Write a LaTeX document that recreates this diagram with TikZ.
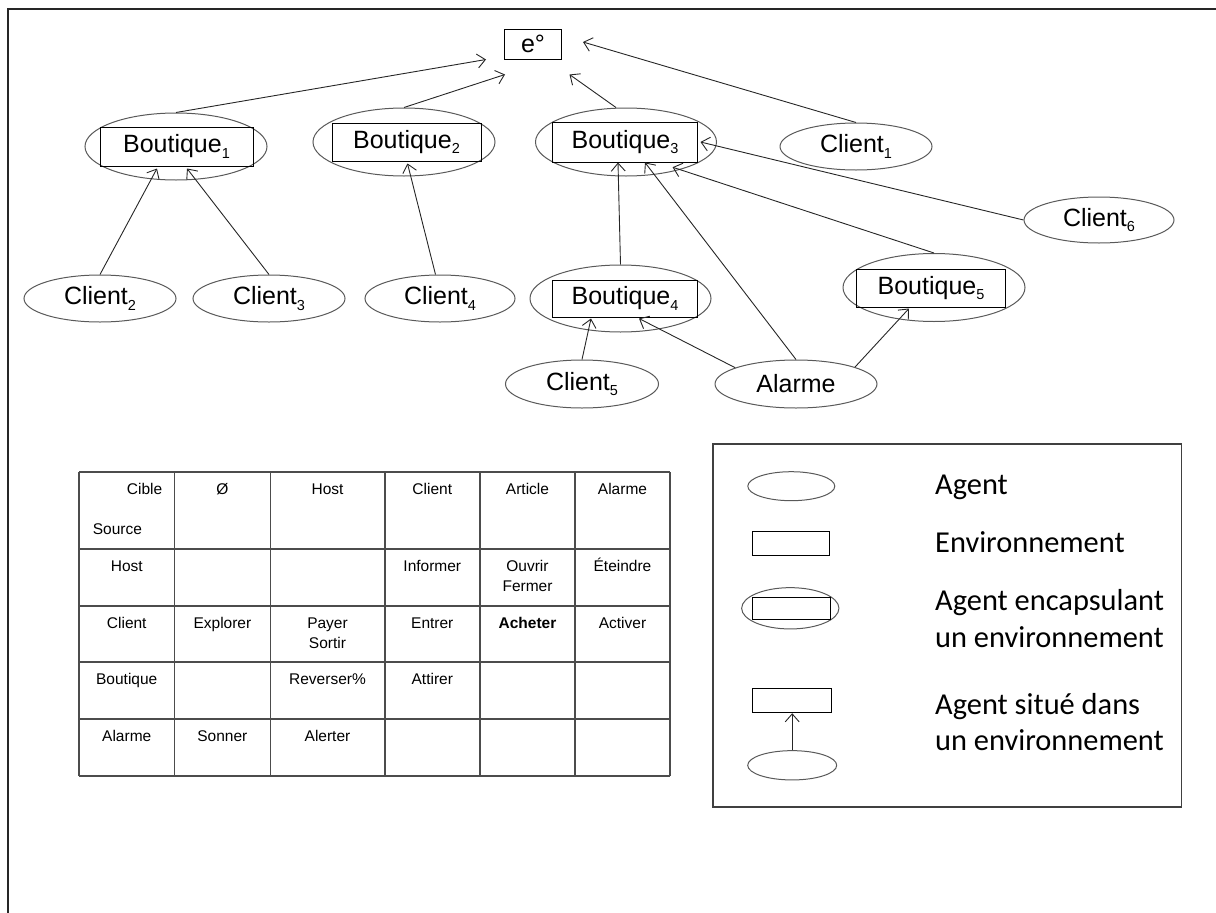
\documentclass[tikz,border=0pt]{standalone}
\usepackage{fontspec}
\setmainfont{Liberation Sans}
\newfontfamily\legfont{Carlito}
\usetikzlibrary{shapes.geometric,arrows.meta}
\newcommand\mysub[1]{\raisebox{-0.42ex}{\fontsize{14.5}{15}\selectfont #1}}
\tikzset{
 ell/.style={ellipse, draw=black!65, line width=1pt, inner sep=0pt},
 envbox/.style={rectangle, draw=black, line width=1pt, inner sep=0pt},
 lbl/.style={font=\fontsize{25}{29}\selectfont},
 arr/.style={draw=black!85, line width=0.9pt, -{Straight Barb[length=8pt,width=14pt]}},
 cell/.style={anchor=base, font=\fontsize{15.5}{18}\selectfont, inner sep=0pt},
 leg/.style={anchor=base west, font=\legfont\fontsize{30.4}{36}\selectfont, inner sep=0pt},
 tline/.style={draw=black!70, line width=1.4pt},
}
\begin{document}
\begin{tikzpicture}[x=1pt,y=-1pt]
\useasboundingbox (0,0) rectangle (1216,913);
% frame
\draw[line width=2pt, black!85] (8,913) -- (8,9) -- (1216,9);

% top node
\node[envbox, lbl, minimum width=57pt, minimum height=30pt] (e) at (533,44) {e°};

% boutiques (agent encapsulating environment)
\node[ell, minimum width=182pt, minimum height=67pt] (b1) at (176,146.5) {};
\node[envbox, lbl, minimum width=153pt, minimum height=39pt] (b1r) at (176.5,146.5) {Boutique\mysub{1}};
\node[ell, minimum width=182pt, minimum height=68pt] (b2) at (404,142) {};
\node[envbox, lbl, minimum width=149pt, minimum height=38pt] (b2r) at (406.5,142) {Boutique\mysub{2}};
\node[ell, minimum width=181pt, minimum height=68pt] (b3) at (626,142) {};
\node[envbox, lbl, minimum width=145pt, minimum height=40pt] (b3r) at (625,142) {Boutique\mysub{3}};
\node[ell, minimum width=181pt, minimum height=67pt] (b4) at (620.5,298.5) {};
\node[envbox, lbl, minimum width=145pt, minimum height=37pt] (b4r) at (625,298.5) {Boutique\mysub{4}};
\node[ell, minimum width=182pt, minimum height=68pt] (b5) at (934,287.5) {};
\node[envbox, lbl, minimum width=149pt, minimum height=38pt] (b5r) at (931,288) {Boutique\mysub{5}};

% clients
\node[ell, lbl, minimum width=152pt, minimum height=47pt] (c1) at (856,146.5) {Client\mysub{1}};
\node[ell, lbl, minimum width=152pt, minimum height=47pt] (c2) at (100,298.5) {Client\mysub{2}};
\node[ell, lbl, minimum width=152pt, minimum height=47pt] (c3) at (269,298.5) {Client\mysub{3}};
\node[ell, lbl, minimum width=150pt, minimum height=47pt] (c4) at (440,298.5) {Client\mysub{4}};
\node[ell, lbl, minimum width=153pt, minimum height=48pt] (c5) at (582,384) {Client\mysub{5}};
\node[ell, lbl, minimum width=150pt, minimum height=46pt] (c6) at (1099,220) {Client\mysub{6}};
\node[ell, lbl, minimum width=162pt, minimum height=48pt] (al) at (796,384) {Alarme};

% connectors
\draw[arr] (b1.north) -- ([xshift=-18pt]e.south west);
\draw[arr] (b2.north) -- ([xshift=1pt,yshift=-15pt]e.south west);
\draw[arr] ([xshift=-10pt]b3.north) -- ([xshift=7.5pt,yshift=-15pt]e.south east);
\draw[arr] (c1.north) -- ([xshift=21pt,yshift=2pt]e.east);
\draw[arr] (c2.north) -- ([xshift=-19.5pt,yshift=-2pt]b1r.south);
\draw[arr] (c3.north) -- ([xshift=10.5pt,yshift=-2pt]b1r.south);
\draw[arr] ([xshift=-4.5pt]c4.north) -- ([xshift=1pt,yshift=-2pt]b2r.south);
\draw[arr] (b4.north) -- ([xshift=-7pt]b3r.south);
\draw[arr] (al.north) -- ([xshift=20pt]b3r.south);
\draw[arr] (b5.north) -- ([xshift=47.6pt,yshift=-4.7pt]b3r.south);
\draw[arr] (c6.west) -- ([xshift=2.5pt]b3r.east);
\draw[arr] (c5.north) -- ([xshift=-34pt,yshift=-1pt]b4r.south);
\draw[arr] (al.165) -- ([xshift=14pt,yshift=-1pt]b4r.south);
\draw[arr] (al.16) -- ([xshift=-22pt,yshift=-1pt]b5r.south);

% table
\foreach \yy in {472,549,606,662,719,776} \draw[tline] (79,\yy) -- (670,\yy);
\foreach \xx in {79,174.5,270.3,384.8,479.9,575,670} \draw[tline] (\xx,472) -- (\xx,776);

\node[cell, anchor=base east] (h0a) at (162.4,494.5) {Cible};
\node[cell, anchor=base west] (h0b) at (92.6,534.5) {Source};
\node[cell] (h1) at (222.4,494.5) {Ø};
\node[cell] (h2) at (327.5,494.5) {Host};
\node[cell] (h3) at (432.3,494.5) {Client};
\node[cell] (h4) at (527.5,494.5) {Article};
\node[cell] (h5) at (622.5,494.5) {Alarme};

\node[cell] (r1c0) at (126.75,571.5) {Host};
\node[cell] (r1c3) at (432.3,571.5) {Informer};
\node[cell] (r1c4a) at (527.5,571.5) {Ouvrir};
\node[cell] (r1c4b) at (527.5,591.5) {Fermer};
\node[cell] (r1c5) at (622.5,571.5) {Éteindre};

\node[cell] (r2c0) at (126.75,628.5) {Client};
\node[cell] (r2c1) at (222.4,628.5) {Explorer};
\node[cell] (r2c2a) at (327.5,628.5) {Payer};
\node[cell] (r2c2b) at (327.5,648.5) {Sortir};
\node[cell] (r2c3) at (432.3,628.5) {Entrer};
\node[cell] (r2c4) at (527.5,628.5) {\bfseries Acheter};
\node[cell] (r2c5) at (622.5,628.5) {Activer};

\node[cell] (r3c0) at (126.75,684.5) {Boutique};
\node[cell] (r3c2) at (327.5,684.5) {Reverser\%};
\node[cell] (r3c3) at (432.3,684.5) {Attirer};

\node[cell] (r4c0) at (126.75,741.5) {Alarme};
\node[cell] (r4c1) at (222.4,741.5) {Sonner};
\node[cell] (r4c2) at (327.5,741.5) {Alerter};

% legend
\draw[draw=black!75, line width=1.3pt] (713,444) rectangle (1181.7,807);
\node[ell, minimum width=87pt, minimum height=29pt] (la) at (791.3,486.2) {};
\node[envbox, minimum width=77.3pt, minimum height=24.3pt] (le) at (791.3,543.8) {};
\node[ell, minimum width=97.3pt, minimum height=41.3pt] (lce) at (790.3,608.3) {};
\node[envbox, minimum width=78.3pt, minimum height=22.3pt] (lcr) at (791.8,608.8) {};
\node[envbox, minimum width=79pt, minimum height=24.4pt] (lsr) at (792.2,700.5) {};
\node[ell, minimum width=89pt, minimum height=29.3pt] (lse) at (792.2,765.3) {};
\draw[arr] (lse.north) -- (lsr.south);

\node[leg] (t1) at (935,494.3) {Agent};
\node[leg] (t2) at (935,552.7) {Environnement};
\node[leg] (t3) at (935,610.7) {Agent encapsulant};
\node[leg] (t4) at (935,647.3) {un environnement};
\node[leg] (t5) at (935,714) {Agent situé dans};
\node[leg] (t6) at (935,750.7) {un environnement};
\end{tikzpicture}
\end{document}
